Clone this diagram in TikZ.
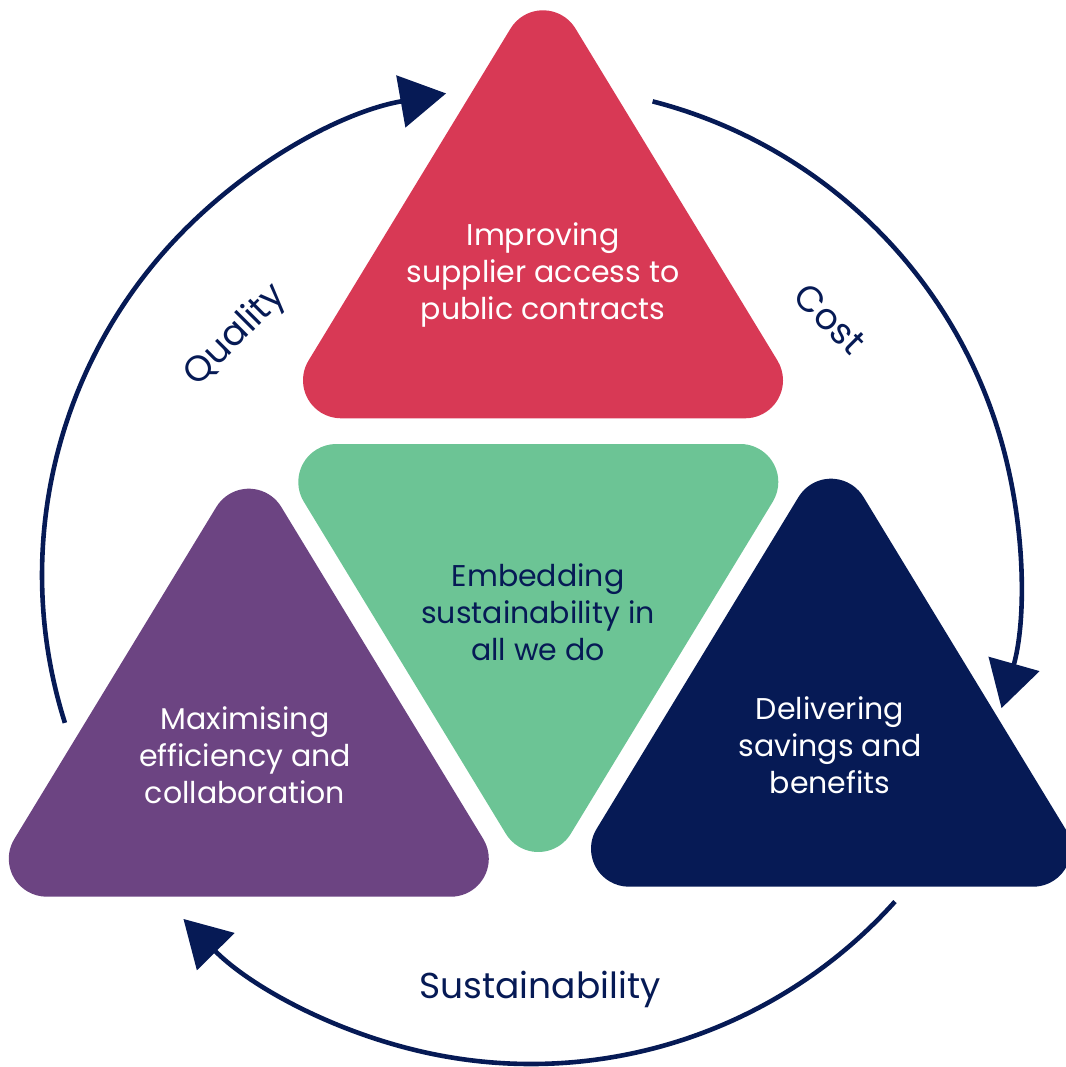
\documentclass[tikz,border=0pt]{standalone}
\usepackage{fontspec}
\setmainfont{Poppins}
\usetikzlibrary{arrows.meta}
\definecolor{cred}{HTML}{D83955}
\definecolor{cnavy}{HTML}{061A55}
\definecolor{cpurple}{HTML}{6C4482}
\definecolor{cgreen}{HTML}{6CC495}
\newcommand\rtripath{(-202,0) -- (202,0) arc[start angle=-90,end angle=31.3,radius=38] -- (32.47,389.74) arc[start angle=31.3,end angle=148.7,radius=38] -- (-234.47,57.74) arc[start angle=148.7,end angle=270,radius=38] -- cycle}
\begin{document}
\begin{tikzpicture}[x=1pt,y=1pt,
  lbl/.style={text=white, align=center, font=\fontsize{30}{37}\selectfont},
  cyc/.style={draw=cnavy, line width=4.6pt, -{Triangle[length=46pt,width=52pt]}},
  arclbl/.style={text=cnavy, font=\fontsize{36}{42}\selectfont}]
\useasboundingbox (0,-1067) rectangle (1065,0);
\coordinate (O) at (531,-575);
% triangles
\fill[cred, shift={(543,-418.3)}] \rtripath;
\fill[cgreen, shift={(538.3,-444)}, yscale=-1] \rtripath;
\fill[cpurple, shift={(248.8,-896.7)}] \rtripath;
\fill[cnavy, shift={(831,-886.7)}] \rtripath;
% cycle arcs
\draw[cyc] (O) ++(197.6:489) arc[start angle=197.6, end angle=100, radius=489];
\draw[cyc] (O) ++(75.6:489) arc[start angle=75.6, end angle=-15.8, radius=489];
\draw[cyc] (O) ++(-41.9:489) arc[start angle=-41.9, end angle=-135.3, radius=489];
% texts
\node[lbl] (t1) at (543,-275) {Improving\\supplier access to\\public contracts};
\node[lbl, text=cnavy] (t2) at (538,-612) {Embedding\\sustainability in\\all we do};
\node[lbl] (t3) at (245,-755) {Maximising\\efficiency and\\collaboration};
\node[lbl] (t4) at (830,-745) {Delivering\\savings and\\benefits};
\node[arclbl, rotate=45] (q) at (236,-336) {Quality};
\node[arclbl, rotate=-45] (c) at (830,-319) {Cost};
\node[arclbl] (s) at (540,-989) {Sustainability};
\end{tikzpicture}
\end{document}
